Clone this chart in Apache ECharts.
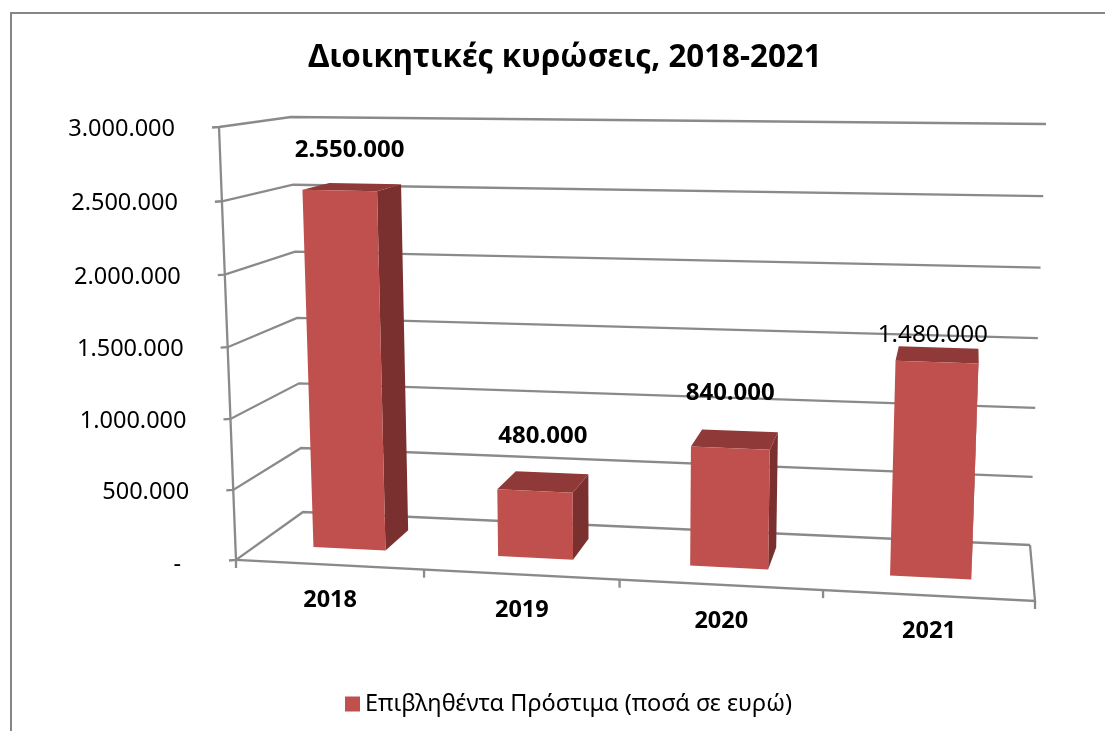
<!DOCTYPE html>
<html><head><meta charset="utf-8">
<style>html,body{margin:0;padding:0;background:#fff}#c{width:1105px;height:731px}</style>
<script src="https://cdn.jsdelivr.net/npm/echarts@6/dist/echarts.min.js"></script>
</head><body><div id="c"></div>
<script>
// ---- data ----
const chartTitle = 'Διοικητικές κυρώσεις, 2018-2021';
const seriesName = 'Επιβληθέντα Πρόστιμα (ποσά σε ευρώ)';
const categories = ['2018', '2019', '2020', '2021'];
const fineValues = [2550000, 480000, 840000, 1480000];
const dataLabels = ['2.550.000', '480.000', '840.000', '1.480.000'];
const valueTicks = [0, 500000, 1000000, 1500000, 2000000, 2500000, 3000000];
const tickLabels = ['-', '500.000', '1.000.000', '1.500.000', '2.000.000', '2.500.000', '3.000.000'];

// ---- look of the 3D box (projection of the plot rectangle) ----
const box = {
  fb0: [236, 560], fb1: [1035, 601], ft0: [219, 127], ft1: [1053, 140],   // front plane
  bb0: [303, 512], bb1: [1030, 545], bt0: [291, 117], bt1: [1046, 124],   // back plane
  ku: 1.083, kv: 1.035
};
const barLook = { width: 0.395, shift: 0.005, d0: 0.33, d1: 0.74 };
const labelShift = [[10, -40], [8, -55], [0, -55], [-4, -27]];
const labelBold = [true, true, true, false];
const FONT = '"Noto Sans", sans-serif';
const GRID = '#8a8a8a';

const warp = (t, k) => t / (t + (1 - t) * k);
const mix = (a, b, t) => [a[0] + (b[0] - a[0]) * t, a[1] + (b[1] - a[1]) * t];
function project(u, v, d) {
  const U = warp(u, box.ku), V = warp(v, box.kv);
  const front = mix(mix(box.fb0, box.fb1, U), mix(box.ft0, box.ft1, U), V);
  const back = mix(mix(box.bb0, box.bb1, U), mix(box.bt0, box.bt1, U), V);
  return mix(front, back, d);
}
const normU = (x, cs) => (x - cs.x) / cs.width;
const normV = (y, cs) => (cs.y + cs.height - y) / cs.height;
const line = (pts, w) => ({ type: 'polyline', shape: { points: pts }, style: { stroke: GRID, lineWidth: w || 2.3, fill: null } });
const label = (text, x, y, size, bold, align) => ({
  type: 'text', x: x, y: y,
  style: { text: text, fill: '#000', fontFamily: FONT, fontSize: size, fontWeight: bold ? 'bold' : 'normal', align: align || 'center', verticalAlign: 'middle' }
});

function renderTick(params, api) {
  const cs = params.coordSys, i = params.dataIndex;
  const v = normV(api.coord([0, api.value(0)])[1], cs);
  const f = project(0, v, 0), b = project(0, v, 1), r = project(1, v, 1);
  const kids = [
    line([[f[0] - 7, f[1] + 0.5], f, b, r]),
    label(tickLabels[i], f[0] - (i === 0 ? 55 : 44), f[1] + (i === 0 ? 4 : 2.5), 23.5, false, 'right')
  ];
  if (i === 0) {
    const ft = project(0, 1, 0), fr = project(1, 0, 0);
    kids.push(line([ft, f, fr, r]));
    kids.push(line([fr, [fr[0], fr[1] + 8]]));
    kids.push(line([f, [f[0], f[1] + 8]]));
  }
  return { type: 'group', children: kids };
}
function renderCat(params, api) {
  const cs = params.coordSys, i = params.dataIndex;
  const c = api.coord([api.value(0), 0]), band = api.size([1, 0])[0];
  const kids = [];
  if (i > 0) {
    const t = project(normU(c[0] - band / 2, cs), 0, 0);
    kids.push(line([t, [t[0], t[1] + 8]]));
  }
  const m = project(normU(c[0], cs), 0, 0);
  kids.push(label(categories[i], m[0] + 1, m[1] + 36, 23.5, true));
  return { type: 'group', children: kids };
}
function renderBar(params, api) {
  const cs = params.coordSys, i = params.dataIndex;
  const top = api.coord([api.value(0), api.value(1)]), base = api.coord([api.value(0), 0]);
  const band = api.size([1, 0])[0];
  const hw = band * barLook.width / 2, cx = top[0] + band * barLook.shift;
  const u0 = normU(cx - hw, cs), u1 = normU(cx + hw, cs);
  const v0 = normV(base[1], cs), v1 = normV(top[1], cs);
  const a = barLook.d0, z = barLook.d1;
  const poly = (pts, fill) => ({ type: 'polygon', shape: { points: pts }, style: { fill: fill } });
  const tc = project((u0 + u1) / 2, v1, a);
  return { type: 'group', children: [
    poly([project(u1, v0, a), project(u1, v1, a), project(u1, v1, z), project(u1, v0, z)], '#7a302e'),
    poly([project(u0, v1, a), project(u1, v1, a), project(u1, v1, z), project(u0, v1, z)], '#8f3938'),
    poly([project(u0, v0, a), project(u1, v0, a), project(u1, v1, a), project(u0, v1, a)], '#c0504d'),
    label(dataLabels[i], tc[0] + labelShift[i][0], tc[1] + labelShift[i][1], labelBold[i] ? 24 : 24.3, labelBold[i])
  ]};
}

const chart = echarts.init(document.getElementById('c'), null, { renderer: 'canvas' });
chart.setOption({
  animation: false,
  backgroundColor: '#fff',
  title: { text: chartTitle, left: 560, top: 38, textAlign: 'center',
    textStyle: { fontFamily: FONT, fontSize: 31.3, fontWeight: 'bold', color: '#000' } },
  legend: { data: [seriesName], left: 340, top: 687, icon: 'rect', itemWidth: 15, itemHeight: 15, itemGap: 7,
    textStyle: { fontFamily: FONT, fontSize: 23.5, color: '#000' } },
  grid: { left: 236, right: 70, top: 127, height: 433 },
  xAxis: { type: 'category', data: categories, show: false },
  yAxis: { type: 'value', min: 0, max: 3000000, interval: 500000, show: false },
  graphic: [{ type: 'polyline', silent: true, shape: { points: [[11, 731], [11, 13], [1105, 13]] }, style: { stroke: '#868686', lineWidth: 2, fill: null } }],
  series: [
    { type: 'custom', name: 'ticks', renderItem: renderTick, data: valueTicks.map(v => [v]), encode: { y: 0 }, silent: true, z: 1 },
    { type: 'custom', name: 'cats', renderItem: renderCat, data: categories.map((c, i) => [i]), encode: { x: 0 }, silent: true, z: 2 },
    { type: 'custom', name: seriesName, renderItem: renderBar, itemStyle: { color: '#c0504d' },
      data: fineValues.map((v, i) => [i, v]), encode: { x: 0, y: 1 }, silent: true, z: 3 }
  ]
});
</script></body></html>
